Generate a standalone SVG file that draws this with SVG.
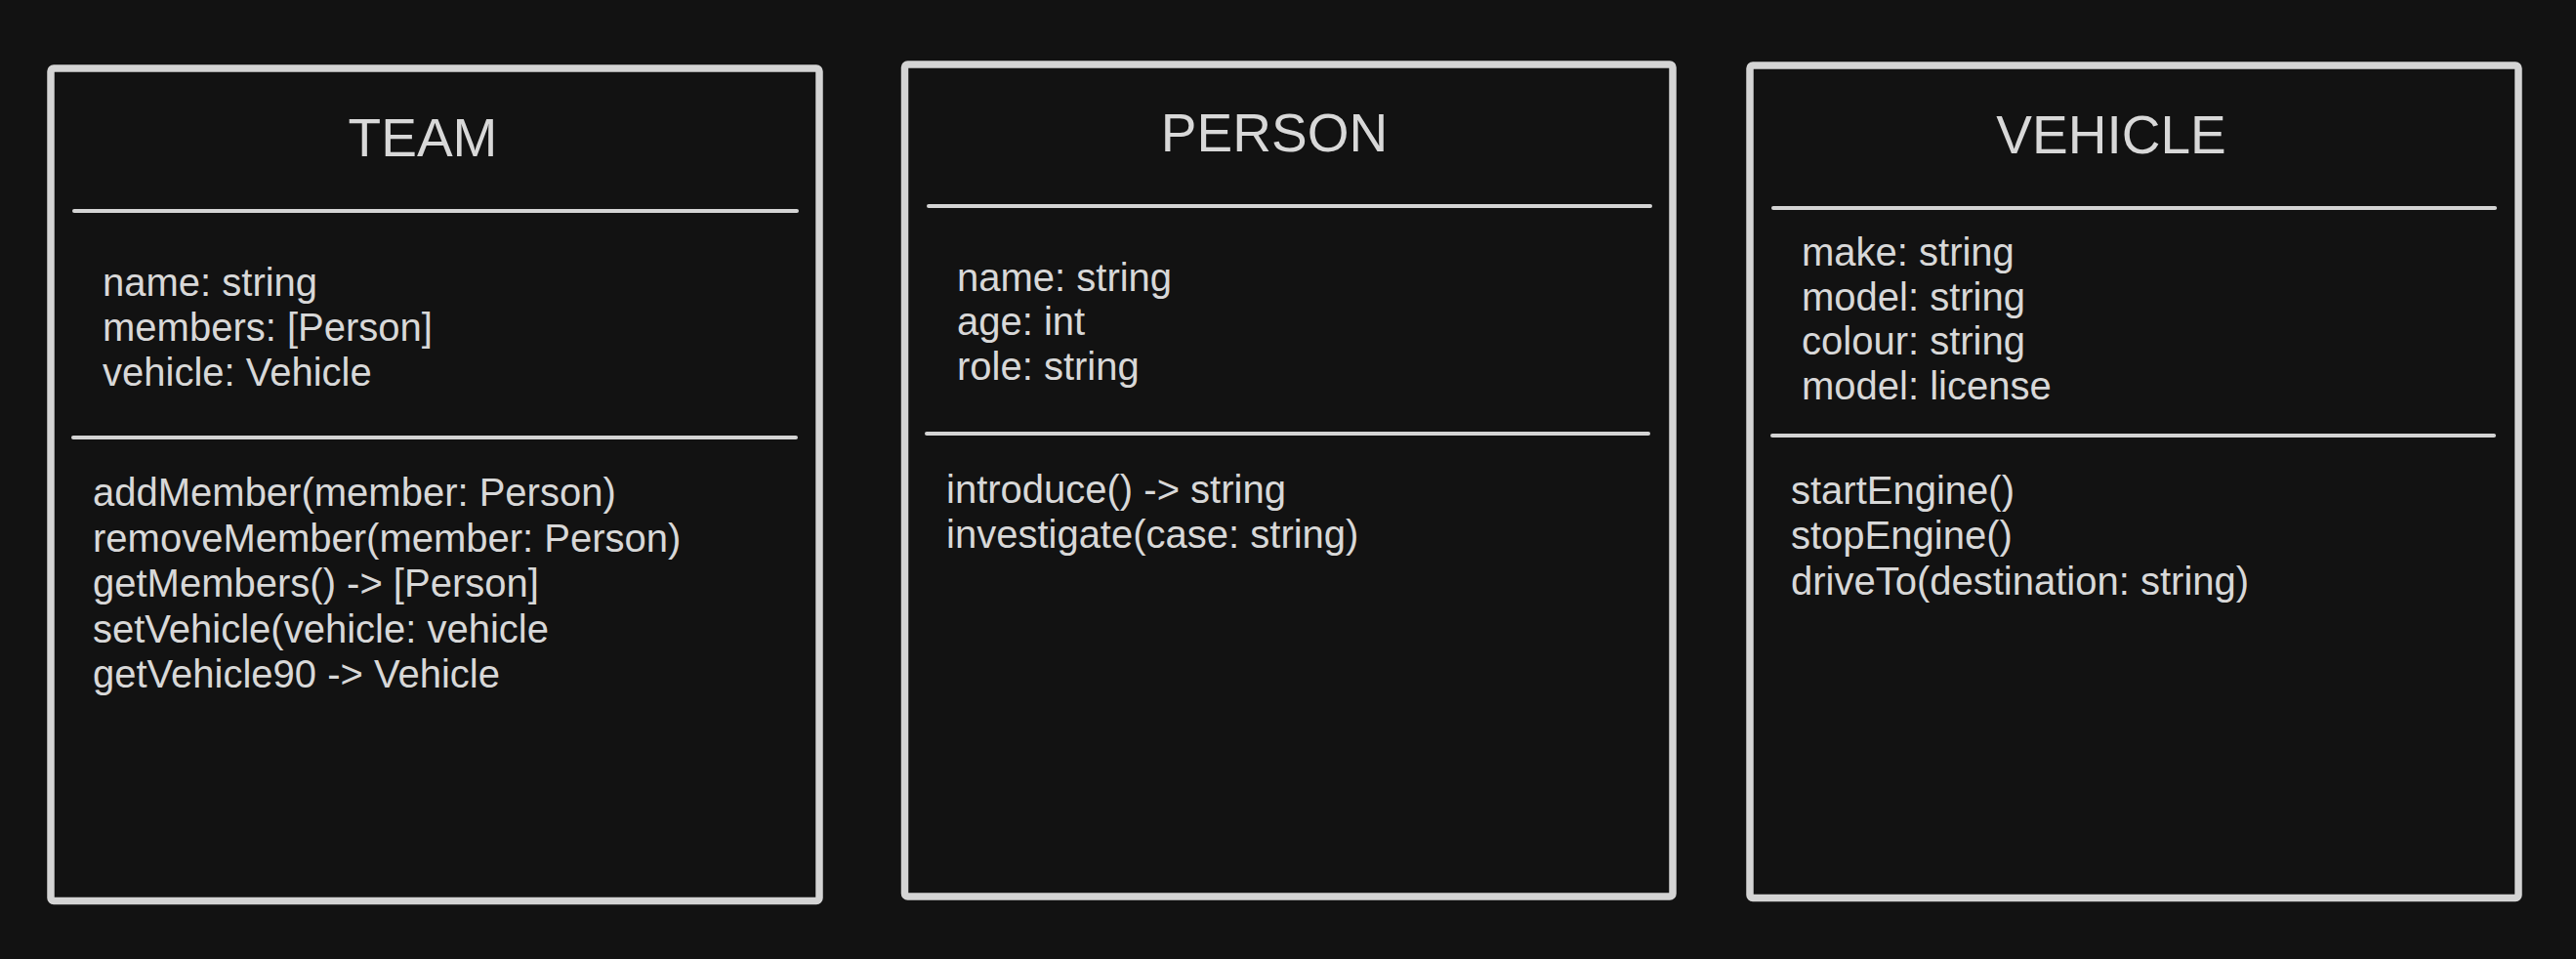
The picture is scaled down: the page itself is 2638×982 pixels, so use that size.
<svg xmlns="http://www.w3.org/2000/svg" width="2638" height="982" viewBox="0 0 2638 982">
<style>
.box{fill:#121212;stroke:#d4d4d4;stroke-width:7.5}
.div{stroke:#d4d4d4;stroke-width:4;stroke-linecap:round}
.title{font-family:"Liberation Sans",Arial,sans-serif;font-size:55px;fill:#d8d8d8;text-anchor:middle}
.t{font-family:"Liberation Sans",Arial,sans-serif;font-size:40px;fill:#d8d8d8}
</style>
<rect width="2638" height="982" fill="#121212"/>
<g id="team">
<rect class="box" x="52" y="70" width="787" height="852.5" rx="3"/>
<text class="title" x="433" y="160">TEAM</text>
<line class="div" x1="76" y1="216" x2="816" y2="216"/>
<text class="t" x="105" y="303">name: string</text>
<text class="t" x="105" y="349">members: [Person]</text>
<text class="t" x="105" y="395">vehicle: Vehicle</text>
<line class="div" x1="75" y1="448" x2="815" y2="448"/>
<text class="t" x="95" y="518">addMember(member: Person)</text>
<text class="t" x="95" y="564.5">removeMember(member: Person)</text>
<text class="t" x="95" y="611">getMembers() -&gt; [Person]</text>
<text class="t" x="95" y="657.5">setVehicle(vehicle: vehicle</text>
<text class="t" x="95" y="704">getVehicle90 -&gt; Vehicle</text>
</g>
<g id="person">
<rect class="box" x="926.5" y="66" width="786.5" height="852" rx="3"/>
<text class="title" x="1305" y="155">PERSON</text>
<line class="div" x1="951" y1="211" x2="1690" y2="211"/>
<text class="t" x="980" y="298">name: string</text>
<text class="t" x="980" y="343">age: int</text>
<text class="t" x="980" y="389">role: string</text>
<line class="div" x1="949" y1="444" x2="1688" y2="444"/>
<text class="t" x="969" y="514.5">introduce() -&gt; string</text>
<text class="t" x="969" y="560.5">investigate(case: string)</text>
</g>
<g id="vehicle">
<rect class="box" x="1792" y="67" width="787" height="852.5" rx="3"/>
<text class="title" x="2162" y="157">VEHICLE</text>
<line class="div" x1="1816" y1="213" x2="2555" y2="213"/>
<text class="t" x="1845" y="272">make: string</text>
<text class="t" x="1845" y="318">model: string</text>
<text class="t" x="1845" y="363">colour: string</text>
<text class="t" x="1845" y="409">model: license</text>
<line class="div" x1="1815" y1="446" x2="2554" y2="446"/>
<text class="t" x="1834" y="515.5">startEngine()</text>
<text class="t" x="1834" y="562">stopEngine()</text>
<text class="t" x="1834" y="608.5">driveTo(destination: string)</text>
</g>
<g id="connectors"/>
</svg>
